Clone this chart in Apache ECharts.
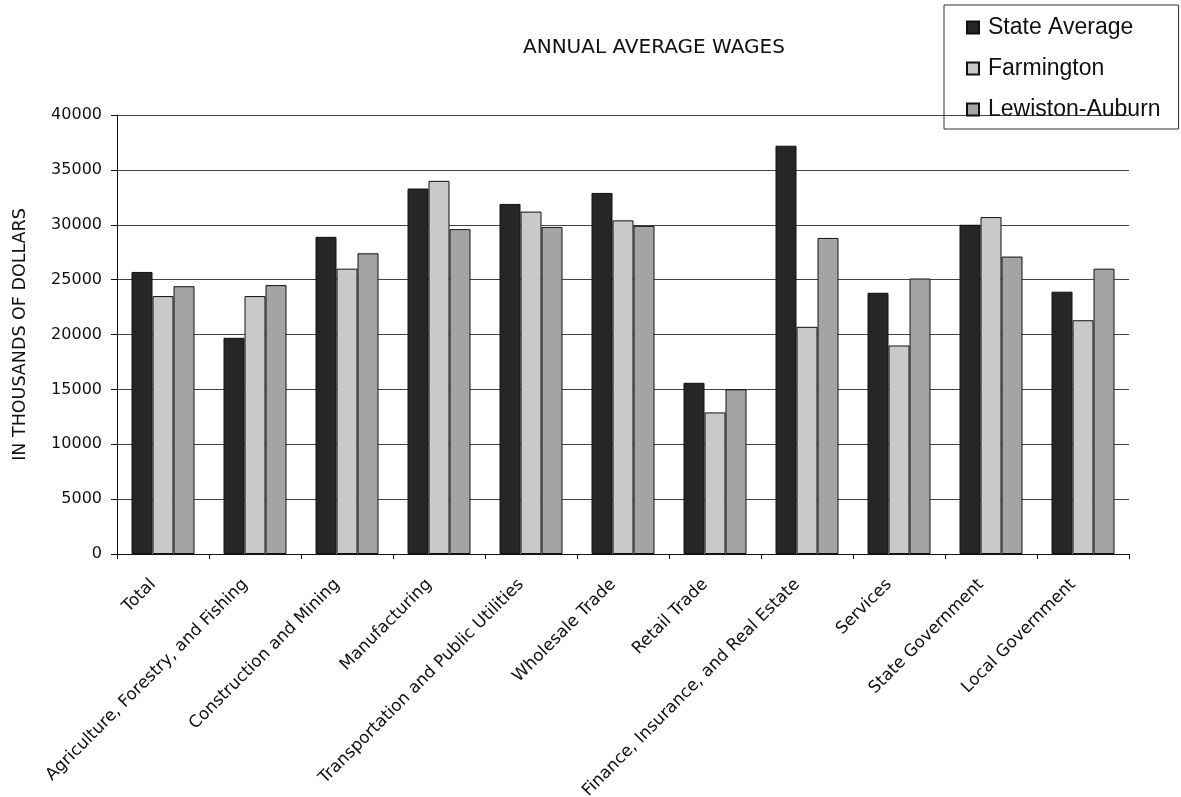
<!DOCTYPE html>
<html><head><meta charset="utf-8">
<script src="https://cdn.jsdelivr.net/npm/echarts@6/dist/echarts.min.js"></script>
<style>html,body{margin:0;padding:0;background:#fff}#c{width:1181px;height:797px}</style>
</head><body><div id="c"></div>
<script>
const categories = ['Total','Agriculture, Forestry, and Fishing','Construction and Mining','Manufacturing','Transportation and Public Utilities','Wholesale Trade','Retail Trade','Finance, Insurance, and Real Estate','Services','State Government','Local Government'];
const seriesNames = ['State Average','Farmington','Lewiston-Auburn'];
const stateAverage   = [25700,19700,28900,33300,31900,32900,15600,37200,23800,30000,23900];
const farmington     = [23500,23500,26000,34000,31200,30400,12900,20700,19000,30700,21300];
const lewistonAuburn = [24400,24500,27400,29600,29800,29900,15000,28800,25100,27100,26000];
const yMin = 0, yMax = 40000, yStep = 5000;

const colors = ['#262626','#c9c9c9','#a4a4a4'];
const dataSets = [stateAverage, farmington, lewistonAuburn];
const FONT = 'DejaVu Sans';

const chart = echarts.init(document.getElementById('c'), null, {renderer:'canvas'});
chart.setOption({
  backgroundColor:'#ffffff',
  animation:false,
  title:{
    text:'ANNUAL AVERAGE WAGES',
    left:518, top:33,
    textStyle:{fontFamily:FONT, fontSize:20, fontWeight:'normal', color:'#111'}
  },
  legend:{
    orient:'vertical',
    left:944, top:5,
    padding:[11,18,8,22],
    itemGap:18,
    itemWidth:12, itemHeight:12,
    borderColor:'#333', borderWidth:1,
    icon:'rect',
    selectedMode:false,
    textStyle:{fontFamily:'Liberation Sans', fontSize:23, color:'#111', padding:[0,0,0,4]},
    data:seriesNames
  },
  grid:{left:117, right:52, top:115, bottom:243, containLabel:false, outerBoundsMode:'none'},
  xAxis:{
    type:'category',
    data:categories,
    axisLine:{lineStyle:{color:'#111', width:1}},
    axisTick:{show:true, length:5, lineStyle:{color:'#111'}},
    axisLabel:{rotate:45, interval:0, margin:18, padding:[0,14,0,0], fontFamily:FONT, fontSize:16.8, color:'#111'},
    splitLine:{show:false}
  },
  yAxis:{
    type:'value',
    min:yMin, max:yMax, interval:yStep,
    name:'IN THOUSANDS OF DOLLARS',
    nameLocation:'middle',
    nameGap:88,
    nameRotate:90,
    nameTextStyle:{fontFamily:FONT, fontSize:17.5, color:'#111'},
    axisLine:{show:true, lineStyle:{color:'#111', width:1}},
    axisTick:{show:true, length:6, lineStyle:{color:'#111'}},
    axisLabel:{margin:15, fontFamily:FONT, fontSize:16, color:'#111', formatter:(v)=>String(v)},
    splitLine:{show:true, lineStyle:{color:'#444', width:1}}
  },
  series: seriesNames.map((n,i)=>({
    name:n,
    type:'bar',
    data:dataSets[i],
    barWidth:21,
    barGap:'0%',
    itemStyle:{color:colors[i], borderColor:'#111', borderWidth:1}
  }))
});
</script></body></html>
